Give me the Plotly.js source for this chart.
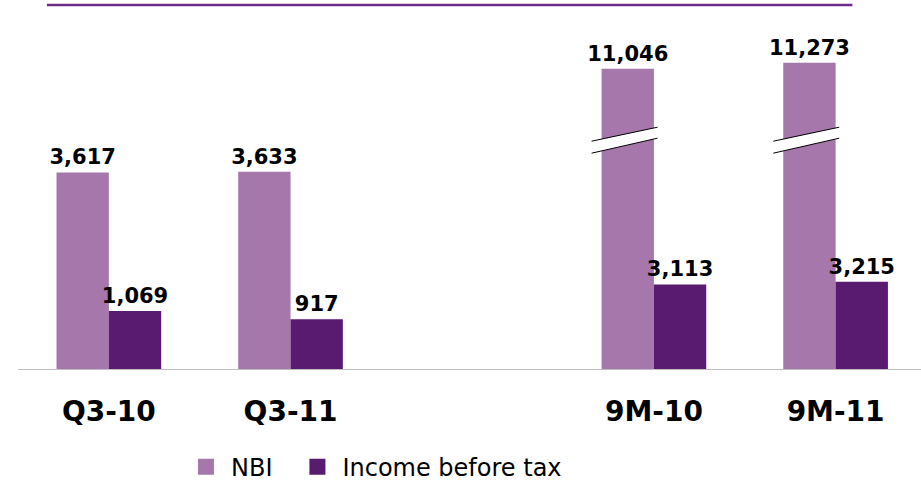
<!DOCTYPE html>
<html><head><meta charset="utf-8">
<script src="https://cdn.plot.ly/plotly-3.0.1.min.js"></script>
<style>html,body{margin:0;padding:0;background:#fff}#chart{width:921px;height:482px}</style>
</head><body><div id="chart"></div>
<script>
// ---- data ----
const axisOrder = ['Q3-10', 'Q3-11', '', '9M-10', '9M-11'];
const quarterCats = ['Q3-10', 'Q3-11'];
const nineMonthCats = ['9M-10', '9M-11'];
const quarterNBI = [3617, 3633];
const quarterIBT = [1069, 917];
const nineMonthNBI = [11046, 11273];
const nineMonthIBT = [3113, 3215];
const seriesNames = ['NBI', 'Income before tax'];

// ---- styles ----
const nbiColor = '#a577aa';
const ibtColor = '#591b6f';
const fontFam = 'DejaVu Sans, Verdana, sans-serif';
const barW = 0.288;

const pos = cats => cats.map(c => axisOrder.indexOf(c));
const tickVals = axisOrder.map((c, i) => i).filter(i => axisOrder[i] !== '');
const tickText = tickVals.map(i => axisOrder[i]);

function barTrace(cats, vals, color, offset, yaxis) {
  return {
    type: 'bar', x: pos(cats), y: vals, yaxis: yaxis,
    width: barW, offset: offset,
    marker: {color: color, line: {width: 0}},
    texttemplate: '%{y:,}', textposition: 'outside', constraintext: 'none',
    cliponaxis: false,
    textfont: {family: fontFam, size: 21, color: '#000', weight: 'bold'},
    showlegend: false, hoverinfo: 'skip'
  };
}

const traces = [
  barTrace(quarterCats, quarterNBI, nbiColor, -barW, 'y'),
  barTrace(quarterCats, quarterIBT, ibtColor, 0, 'y'),
  barTrace(nineMonthCats, nineMonthNBI, nbiColor, -barW, 'y2'),
  barTrace(nineMonthCats, nineMonthIBT, ibtColor, 0, 'y2'),
  {type: 'scatter', mode: 'markers', x: [null], y: [null], name: seriesNames[0],
   marker: {symbol: 'square', size: 16, color: nbiColor}, showlegend: true, legend: 'legend'},
  {type: 'scatter', mode: 'markers', x: [null], y: [null], name: seriesNames[1],
   marker: {symbol: 'square', size: 16, color: ibtColor}, showlegend: true, legend: 'legend2'}
];

// axis-break decoration on the truncated 9M NBI bars (y2 units)
const breakAt = 8420;
const shapes = [{
  type: 'line', xref: 'paper', yref: 'paper', x0: 0.032, x1: 0.924, y0: 1, y1: 1,
  line: {color: '#6b2d87', width: 2.5}
}];
pos(nineMonthCats).forEach(p => {
  const L = p - barW - 0.055, R = p + 0.02;
  shapes.push({
    type: 'path', xref: 'x', yref: 'y2',
    path: `M${L},${breakAt - 478} L${R},${breakAt + 74} L${R},${breakAt + 478} L${L},${breakAt - 37} Z`,
    fillcolor: '#ffffff', line: {width: 0}
  });
  shapes.push({type: 'line', xref: 'x', yref: 'y2', x0: L, y0: breakAt - 478, x1: R, y1: breakAt + 74,
    line: {color: '#000', width: 1}});
  shapes.push({type: 'line', xref: 'x', yref: 'y2', x0: L, y0: breakAt - 37, x1: R, y1: breakAt + 478,
    line: {color: '#000', width: 1}});
});

const legendBase = {
  orientation: 'h', xref: 'container', xanchor: 'left',
  yref: 'container', y: 0.031, yanchor: 'middle',
  itemwidth: 40,
  font: {family: fontFam, size: 24, color: '#000'},
  bgcolor: 'rgba(0,0,0,0)'
};

const layout = {
  width: 921, height: 482,
  margin: {l: 18, r: 0, t: 5, b: 113, autoexpand: false},
  paper_bgcolor: '#fff', plot_bgcolor: '#fff',
  showlegend: true,
  barmode: 'overlay',
  font: {family: fontFam, color: '#000'},
  xaxis: {
    range: [-0.5, 4.47], tickvals: tickVals, ticktext: tickText,
    showgrid: false, zeroline: false, showline: true, linecolor: '#bfbfbf', linewidth: 1,
    ticks: '', ticklabelstandoff: 17, automargin: false,
    tickfont: {family: fontFam, size: 28, color: '#000', weight: 'bold'},
    fixedrange: true
  },
  yaxis: {range: [0, 6700], visible: false, fixedrange: true},
  yaxis2: {range: [0, 13395], overlaying: 'y', visible: false, fixedrange: true},
  legend: Object.assign({}, legendBase, {x: 0.1965}),
  legend2: Object.assign({}, legendBase, {x: 0.3175}),
  shapes: shapes
};

Plotly.newPlot('chart', traces, layout, {displayModeBar: false, staticPlot: true});
</script>
</body></html>
